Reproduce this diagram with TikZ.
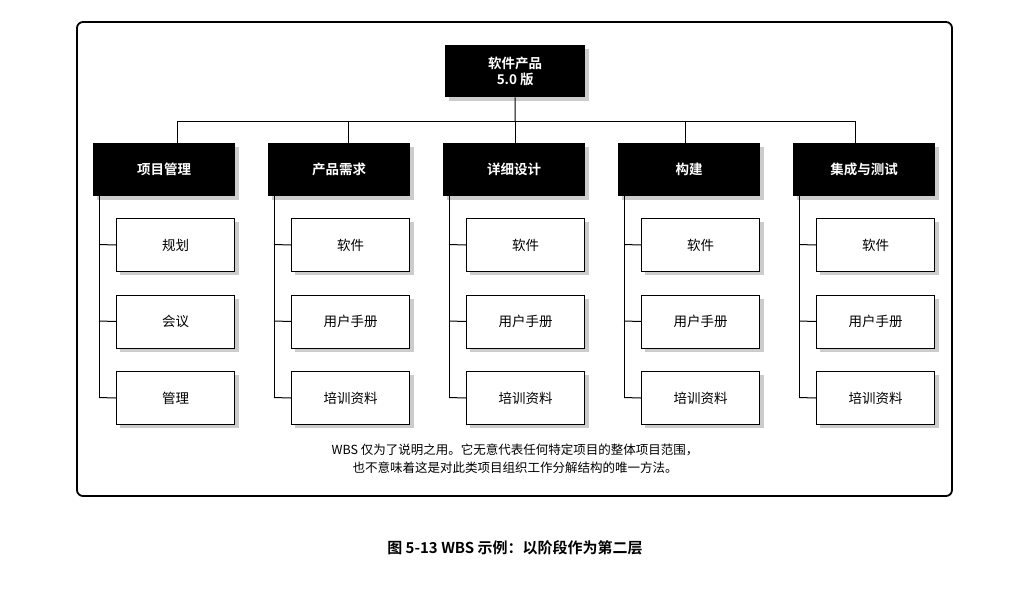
\documentclass[tikz,border=0pt]{standalone}
\usepackage{fontspec}
\setmainfont{Noto Sans CJK SC}
\newfontfamily\cjkb{Noto Sans CJK SC Bold}
\begin{document}
\begin{tikzpicture}[x=1pt,y=-1pt,
  blk/.style={fill=black,text=white,font=\cjkb\fontsize{13.5}{15.5}\selectfont,minimum width=142pt,minimum height=53pt,inner sep=0pt,align=center},
  wht/.style={draw=black,line width=1pt,fill=white,font=\fontsize{13.5}{15}\selectfont,minimum width=118pt,minimum height=53pt,inner sep=0pt},
  ln/.style={line width=1pt}]
\useasboundingbox (0,0) rectangle (1030,600);
\draw[line width=1.8pt,rounded corners=6pt] (77,22) rectangle (952,496);
\fill[black!20] (449,49) rectangle (589,101);
\node[blk,minimum width=140pt,minimum height=52pt,anchor=north west] (top) at (445,45) {软件产品\\5.0 版};
\coordinate (bus) at (515,121);
\draw[ln] (top.south) -- (bus);
\draw[ln] (177,121) coordinate (bl) -- (855,121) coordinate (br);
\foreach \i/\lx/\vx/\name/\ch in {1/93/177/项目管理/{规划,会议,管理},2/268/348/产品需求/{软件,用户手册,培训资料},3/443/515/详细设计/{软件,用户手册,培训资料},4/618/685/构建/{软件,用户手册,培训资料},5/793/855/集成与测试/{软件,用户手册,培训资料}}{
  \fill[black!20] (\lx+4,147) rectangle (\lx+146,200);
  \node[blk,anchor=north west] (p\i) at (\lx,143) {\name};
  \coordinate (v\i) at (\vx,121);
  \draw[ln] (v\i) -- (\vx,143);
  \coordinate (d\i) at (\lx+6,196);
  \foreach \c [count=\j] in \ch {
    \pgfmathsetmacro{\yy}{218+(\j-1)*76.5}
    \fill[black!20] (\lx+27,\yy+4) rectangle (\lx+146,\yy+57);
    \node[wht,anchor=north west] (c\i\j) at (\lx+23,\yy) {\c};
    \draw[ln] (\lx+6,\yy+26.5) -- (c\i\j.west);
  }
  \draw[ln] (d\i) -- (\lx+6,397.5);
}
\node[font=\fontsize{12.5}{18}\selectfont,align=center] (note) at (515,459) {WBS 仅为了说明之用。它无意代表任何特定项目的整体项目范围，\\也不意味着这是对此类项目组织工作分解结构的唯一方法。};
\node[font=\cjkb\fontsize{15}{18}\selectfont] (cap) at (515,548) {图 5-13 WBS 示例：以阶段作为第二层};
\end{tikzpicture}
\end{document}
